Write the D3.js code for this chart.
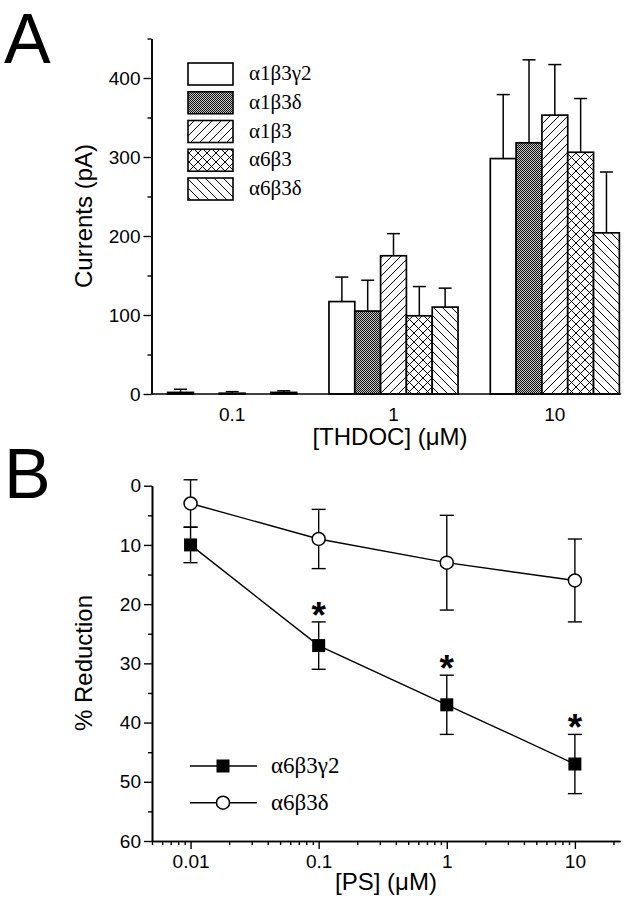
<!DOCTYPE html>
<html>
<head>
<meta charset="utf-8">
<script src="https://cdn.jsdelivr.net/npm/d3@7"></script>
<style>
  html, body { margin: 0; padding: 0; background: #fff; }
  svg { display: block; }
</style>
</head>
<body>
<svg id="chart" width="642" height="899"></svg>
<script>
// ---------- DATA ----------
// Panel A
const thdocConc = ["0.1", "1", "10"];
const subunits = ["α1β3γ2", "α1β3δ", "α1β3", "α6β3", "α6β3δ"];
const patternIds = ["p-white", "p-dots", "p-fwd", "p-cross", "p-back"];
const curA1B3G2 = [2, 117, 298];
const errA1B3G2 = [4, 31, 81];
const curA1B3D = [null, 105, 318];
const errA1B3D = [null, 39, 105];
const curA1B3 = [1, 175, 353];
const errA1B3 = [2, 28, 64];
const curA6B3 = [null, 99, 306];
const errA6B3 = [null, 37, 68];
const curA6B3D = [2, 110, 204];
const errA6B3D = [2, 24, 77];
const yTicksA = [0, 100, 200, 300, 400];

// Panel B
const psConc = [0.01, 0.1, 1, 10];
const g2Mean = [10, 27, 37, 47];
const g2Err = [3, 4, 5, 5];
const dMean = [3, 9, 13, 16];
const dErr = [4, 5, 8, 7];
const significant = [false, true, true, true];
const seriesB = ["α6β3γ2", "α6β3δ"];
const yTicksB = [0, 10, 20, 30, 40, 50, 60];
const xTickLabelsB = ["0.01", "0.1", "1", "10"];

// ---------- SETUP ----------
const svg = d3.select("#chart");
svg.append("rect").attr("width", 642).attr("height", 899).attr("fill", "#fff");
const SANS = "'Liberation Sans', Arial, Helvetica, sans-serif";
const SERIF = "'Liberation Serif', 'Times New Roman', serif";

// patterns
const defs = svg.append("defs");
defs.append("pattern").attr("id", "p-white").attr("patternUnits", "userSpaceOnUse")
  .attr("width", 4).attr("height", 4)
  .append("rect").attr("width", 4).attr("height", 4).attr("fill", "#fff");
const pd = defs.append("pattern").attr("id", "p-dots").attr("patternUnits", "userSpaceOnUse")
  .attr("width", 2).attr("height", 2);
pd.append("rect").attr("width", 2).attr("height", 2).attr("fill", "#c4c4c4");
pd.append("rect").attr("width", 1).attr("height", 1).attr("fill", "#111");
pd.append("rect").attr("x", 1).attr("y", 1).attr("width", 1).attr("height", 1).attr("fill", "#111");
function hatch(id, d) {
  const p = defs.append("pattern").attr("id", id).attr("patternUnits", "userSpaceOnUse")
    .attr("width", 9).attr("height", 9);
  p.append("rect").attr("width", 9).attr("height", 9).attr("fill", "#fff");
  p.append("path").attr("d", d).attr("stroke", "#000").attr("stroke-width", 1).attr("fill", "none");
}
const fwd = "M-1,1 L1,-1 M0,9 L9,0 M8,10 L10,8";
const back = "M-1,8 L1,10 M0,0 L9,9 M8,-1 L10,1";
hatch("p-fwd", fwd);
hatch("p-back", back);
hatch("p-cross", fwd + " " + back);

// ---------- PANEL A ----------
const curVals = [curA1B3G2, curA1B3D, curA1B3, curA6B3, curA6B3D];
const errVals = [errA1B3G2, errA1B3D, errA1B3, errA6B3, errA6B3D];

const xA = d3.scaleBand().domain(thdocConc).range([151.5, 635.5]).paddingInner(0).paddingOuter(0);
const xSub = d3.scaleBand().domain(subunits).range([0, xA.bandwidth()]).paddingInner(0).paddingOuter(0.625);
const yA = d3.scaleLinear().domain([0, 450]).range([394, 38.5]);

const gA = svg.append("g");

const barData = [];
thdocConc.forEach((c, ci) => {
  subunits.forEach((s, si) => {
    const v = curVals[si][ci];
    if (v !== null) barData.push({ c, s, si, v, e: errVals[si][ci] });
  });
});

// error bars (upward only)
const eb = gA.append("g").attr("stroke", "#000").attr("stroke-width", 1.5);
barData.forEach(d => {
  const cx = xA(d.c) + xSub(d.s) + xSub.bandwidth() / 2;
  eb.append("line").attr("x1", cx).attr("x2", cx).attr("y1", yA(d.v)).attr("y2", yA(d.v + d.e));
  eb.append("line").attr("x1", cx - 6.5).attr("x2", cx + 6.5).attr("y1", yA(d.v + d.e)).attr("y2", yA(d.v + d.e));
});

gA.append("g").selectAll("rect").data(barData).join("rect")
  .attr("x", d => xA(d.c) + xSub(d.s))
  .attr("width", xSub.bandwidth())
  .attr("y", d => yA(d.v))
  .attr("height", d => yA(0) - yA(d.v))
  .attr("fill", d => `url(#${patternIds[d.si]})`)
  .attr("stroke", "#000").attr("stroke-width", 1.7);

// axes A
const yAxisMinorA = d3.axisLeft(yA).tickValues([50, 150, 250, 350, 450]).tickSize(4).tickFormat("").tickSizeOuter(0);
const yAxisA = d3.axisLeft(yA).tickValues(yTicksA).tickSize(8).tickPadding(3).tickSizeOuter(0);
const gyA = gA.append("g").attr("transform", "translate(151.5,0)");
gyA.call(yAxisMinorA);
gyA.append("g").call(yAxisA);
gyA.selectAll("path.domain").attr("stroke-width", 1.6);
gyA.selectAll(".tick line").attr("stroke-width", 1.4);
gyA.selectAll("text").attr("font-family", SANS).attr("font-size", 19).attr("fill", "#000");

const xAxisA = d3.axisBottom(xA).tickSize(0).tickSizeOuter(0);
const gxA = gA.append("g").attr("transform", "translate(0,394)").call(xAxisA);
gxA.select("path.domain").attr("d", "M151.5,0H621").attr("stroke-width", 1.6);
gxA.selectAll("text").attr("font-family", SANS).attr("font-size", 19).attr("fill", "#000")
  .attr("y", 27).attr("dy", 0);

gA.append("text").attr("x", 390).attr("y", 445).attr("text-anchor", "middle")
  .attr("font-family", SANS).attr("font-size", 24).text("[THDOC] (μM)");
gA.append("text").attr("transform", "translate(92,216) rotate(-90)").attr("text-anchor", "middle")
  .attr("font-family", SANS).attr("font-size", 24).text("Currents (pA)");

// legend A
const legA = gA.append("g");
subunits.forEach((s, i) => {
  const y0 = 63 + i * 28.75;
  legA.append("rect").attr("x", 188).attr("y", y0).attr("width", 45).attr("height", 22)
    .attr("fill", `url(#${patternIds[i]})`).attr("stroke", "#000").attr("stroke-width", 1.6);
  legA.append("text").attr("x", 249).attr("y", y0 + 17).attr("font-family", SERIF)
    .attr("font-size", 21).text(s);
});

svg.append("text").attr("x", 4).attr("y", 63).attr("font-family", SANS).attr("font-size", 70).text("A");
svg.append("text").attr("x", 4).attr("y", 498).attr("font-family", SANS).attr("font-size", 70).text("B");

// ---------- PANEL B ----------
const xB = d3.scaleLog().domain([0.005, 22.5]).range([152, 620]);
const yB = d3.scaleLinear().domain([0, 60]).range([485.7, 841]);
const gB = svg.append("g");

const yAxisMinorB = d3.axisLeft(yB).tickValues(d3.range(5, 60, 10)).tickSize(4).tickFormat("").tickSizeOuter(0);
const yAxisB = d3.axisLeft(yB).tickValues(yTicksB).tickSize(8).tickPadding(3).tickSizeOuter(0);
const gyB = gB.append("g").attr("transform", "translate(152,0)");
gyB.call(yAxisMinorB);
gyB.append("g").call(yAxisB);
gyB.selectAll("path.domain").attr("stroke-width", 1.6);
gyB.selectAll(".tick line").attr("stroke-width", 1.4);
gyB.selectAll("text").attr("font-family", SANS).attr("font-size", 19).attr("fill", "#000");

const minorX = [];
[0.001, 0.01, 0.1, 1, 10].forEach(dec => {
  for (let k = 2; k <= 9; k++) {
    const v = dec * k;
    if (v >= 0.005 && v <= 22.5) minorX.push(v);
  }
});
const xAxisMinorB = d3.axisBottom(xB).tickValues(minorX).tickSize(4).tickFormat("").tickSizeOuter(0);
const xAxisB = d3.axisBottom(xB).tickValues(psConc).tickSize(8)
  .tickFormat((d, i) => xTickLabelsB[i]).tickSizeOuter(0);
const gxB = gB.append("g").attr("transform", "translate(0,841)");
gxB.call(xAxisMinorB);
gxB.append("g").call(xAxisB);
gxB.selectAll("path.domain").attr("stroke-width", 1.6);
gxB.selectAll(".tick line").attr("stroke-width", 1.4);
gxB.selectAll("text").attr("font-family", SANS).attr("font-size", 19).attr("fill", "#000")
  .attr("y", 27).attr("dy", 0);

gB.append("text").attr("x", 386).attr("y", 890).attr("text-anchor", "middle")
  .attr("font-family", SANS).attr("font-size", 24).text("[PS] (μM)");
gB.append("text").attr("transform", "translate(92,663) rotate(-90)").attr("text-anchor", "middle")
  .attr("font-family", SANS).attr("font-size", 24).text("% Reduction");

const line = d3.line().x(d => xB(d[0])).y(d => yB(d[1]));
const series = [
  { name: seriesB[0], mean: g2Mean, err: g2Err, marker: "square" },
  { name: seriesB[1], mean: dMean, err: dErr, marker: "circle" }
];

series.forEach(s => {
  const pts = psConc.map((c, i) => [c, s.mean[i], s.err[i]]);
  gB.append("path").datum(pts).attr("d", line).attr("fill", "none")
    .attr("stroke", "#000").attr("stroke-width", 1.4);
  const g = gB.append("g").attr("stroke", "#000").attr("stroke-width", 1.4);
  pts.forEach(p => {
    const cx = xB(p[0]);
    g.append("line").attr("x1", cx).attr("x2", cx).attr("y1", yB(p[1] - p[2])).attr("y2", yB(p[1] + p[2]));
    [p[1] - p[2], p[1] + p[2]].forEach(v => {
      g.append("line").attr("x1", cx - 7).attr("x2", cx + 7).attr("y1", yB(v)).attr("y2", yB(v));
    });
  });
});
series.forEach(s => {
  psConc.forEach((c, i) => {
    const cx = xB(c), cy = yB(s.mean[i]);
    if (s.marker === "square") {
      gB.append("rect").attr("x", cx - 6.5).attr("y", cy - 6.5).attr("width", 13).attr("height", 13)
        .attr("fill", "#000");
    } else {
      gB.append("circle").attr("cx", cx).attr("cy", cy).attr("r", 6.5)
        .attr("fill", "#fff").attr("stroke", "#000").attr("stroke-width", 1.5);
    }
  });
});

// significance asterisks
psConc.forEach((c, i) => {
  if (!significant[i]) return;
  const capY = yB(g2Mean[i] - g2Err[i]);
  gB.append("text").attr("x", xB(c)).attr("y", capY - 15 + 21).attr("text-anchor", "middle")
    .attr("font-family", SANS).attr("font-weight", "bold").attr("font-size", 37).text("*");
});

// legend B
series.forEach((s, i) => {
  const ly = 766 + i * 36.7;
  gB.append("line").attr("x1", 190).attr("x2", 257).attr("y1", ly).attr("y2", ly)
    .attr("stroke", "#000").attr("stroke-width", 1.4);
  if (s.marker === "square") {
    gB.append("rect").attr("x", 223 - 6.5).attr("y", ly - 6.5).attr("width", 13).attr("height", 13).attr("fill", "#000");
  } else {
    gB.append("circle").attr("cx", 223).attr("cy", ly).attr("r", 6.5)
      .attr("fill", "#fff").attr("stroke", "#000").attr("stroke-width", 1.5);
  }
  gB.append("text").attr("x", 271).attr("y", ly + 7).attr("font-family", SERIF)
    .attr("font-size", 23).text(s.name);
});
</script>
</body>
</html>
